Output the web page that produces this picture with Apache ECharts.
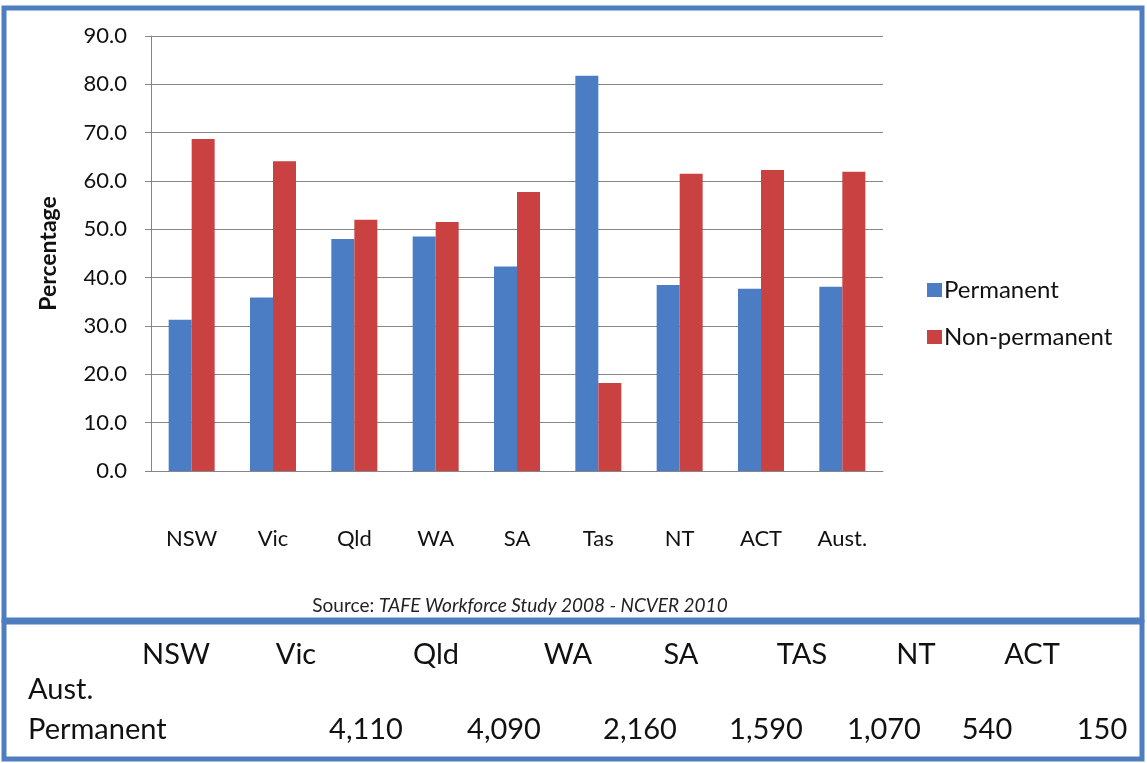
<!DOCTYPE html>
<html>
<head>
<meta charset="utf-8">
<title>TAFE workforce</title>
<script src="https://cdn.jsdelivr.net/npm/echarts@6/dist/echarts.min.js"></script>
<style>
  html, body { margin: 0; padding: 0; background: #fff; }
  #main { width: 1147px; height: 763px; }
</style>
</head>
<body>
<div id="main"></div>
<script>
const categories = ["NSW", "Vic", "Qld", "WA", "SA", "Tas", "NT", "ACT", "Aust."];
const permanent = [31.3, 35.9, 48.0, 48.5, 42.3, 81.8, 38.5, 37.7, 38.1];
const nonPermanent = [68.7, 64.1, 52.0, 51.5, 57.7, 18.2, 61.5, 62.3, 61.9];

// table under the chart
const tableHeads = ["NSW", "Vic", "Qld", "WA", "SA", "TAS", "NT", "ACT"];
const tableHeadX = [176, 296, 436, 568, 681, 802, 916, 1032];
const tableValues = ["4,110", "4,090", "2,160", "1,590", "1,070", "540", "150"];
const tableValueX = [366, 504, 640, 766, 884, 987, 1102];

const FONT = "Lato, 'Open Sans', sans-serif";
const BLUE = "#4A7DC4";
const RED = "#C94141";
const FRAME = "#4F7EC0";
const TFS = 29;

const chart = echarts.init(document.getElementById("main"));

const graphics = [
  {
    type: "rect",
    shape: { x: 4, y: 8, width: 1138, height: 612 },
    style: { fill: "none", stroke: FRAME, lineWidth: 5 }
  },
  {
    type: "rect",
    shape: { x: 4, y: 622, width: 1138, height: 137 },
    style: { fill: "none", stroke: FRAME, lineWidth: 5 }
  },
  {
    type: "text",
    x: 520,
    y: 606,
    style: {
      text: "{n|Source: }{i|TAFE Workforce Study 2008 - NCVER 2010}",
      align: "center",
      verticalAlign: "middle",
      rich: {
        n: { fontFamily: FONT, fontSize: 19, fill: "#222" },
        i: { fontFamily: FONT, fontSize: 19, fontStyle: "italic", fill: "#222" }
      }
    }
  },
  {
    type: "text",
    x: 28,
    y: 690,
    style: { text: "Aust.", fontFamily: FONT, fontSize: TFS, fill: "#111", verticalAlign: "middle" }
  },
  {
    type: "text",
    x: 28,
    y: 730,
    style: { text: "Permanent", fontFamily: FONT, fontSize: TFS, fill: "#111", verticalAlign: "middle" }
  }
];

tableHeads.forEach(function (t, i) {
  graphics.push({
    type: "text",
    x: tableHeadX[i],
    y: 655,
    style: { text: t, fontFamily: FONT, fontSize: TFS, fill: "#111", align: "center", verticalAlign: "middle" }
  });
});
tableValues.forEach(function (t, i) {
  graphics.push({
    type: "text",
    x: tableValueX[i],
    y: 730,
    style: { text: t, fontFamily: FONT, fontSize: TFS, fill: "#111", align: "center", verticalAlign: "middle" }
  });
});

chart.setOption({
  animation: false,
  backgroundColor: "#fff",
  textStyle: { fontFamily: FONT },
  grid: { left: 151, right: 264, top: 36, bottom: 292 },
  legend: {
    orient: "vertical",
    left: 922,
    top: 273,
    itemWidth: 15,
    itemHeight: 14,
    itemGap: 23,
    icon: "rect",
    textStyle: { fontFamily: FONT, fontSize: 24, color: "#111", padding: [0, 0, 0, -3] },
    data: ["Permanent", "Non-permanent"]
  },
  xAxis: {
    type: "category",
    data: categories,
    axisLine: { lineStyle: { color: "#868686", width: 1 } },
    axisTick: { show: false },
    axisLabel: { fontFamily: FONT, fontSize: 22, color: "#111", margin: 57 }
  },
  yAxis: {
    type: "value",
    min: 0,
    max: 90,
    interval: 10,
    name: "Percentage",
    nameLocation: "middle",
    nameGap: 91,
    nameRotate: 90,
    nameTextStyle: { fontFamily: FONT, fontSize: 23, fontWeight: "bold", color: "#111" },
    axisLine: { show: true, lineStyle: { color: "#868686", width: 1 } },
    axisTick: { show: true, length: 6, lineStyle: { color: "#868686" } },
    axisLabel: {
      fontFamily: FONT,
      fontSize: 22,
      color: "#111",
      margin: 24,
      formatter: function (v) { return v.toFixed(1); }
    },
    splitLine: { lineStyle: { color: "#868686", width: 1 } }
  },
  series: [
    {
      name: "Permanent",
      type: "bar",
      data: permanent,
      barWidth: 23,
      barGap: "0%",
      itemStyle: { color: BLUE }
    },
    {
      name: "Non-permanent",
      type: "bar",
      data: nonPermanent,
      barWidth: 23,
      itemStyle: { color: RED }
    }
  ],
  graphic: graphics
});
</script>
</body>
</html>
